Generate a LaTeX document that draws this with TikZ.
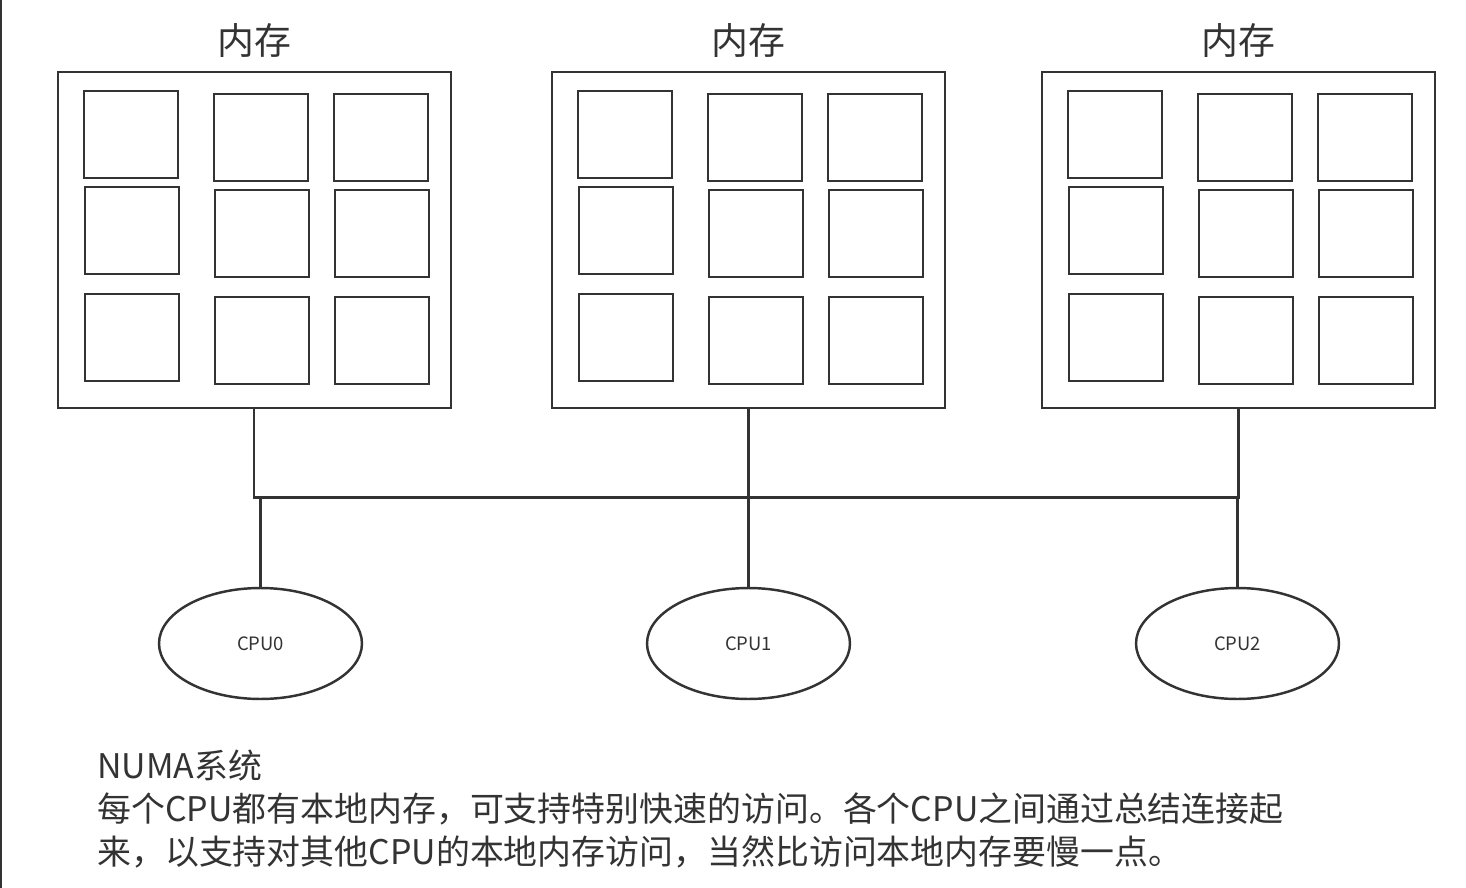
\documentclass[tikz,border=0pt]{standalone}
\usepackage{fontspec}
\newfontfamily\cjk{Noto Sans CJK SC}
\usetikzlibrary{shapes.geometric}
\definecolor{ink}{HTML}{333333}
\tikzset{
  membox/.style={draw=ink, line width=1.5pt, minimum width=7.86cm, minimum height=6.72cm, inner sep=0pt},
  cpunode/.style={draw=ink, ellipse, line width=1.4pt, minimum width=4.06cm, minimum height=2.22cm, inner sep=0pt, font=\cjk\fontsize{10.5}{12}\selectfont},
  wire/.style={draw=ink, line width=1.4pt}
}
\begin{document}
\begin{tikzpicture}[x=0.02cm, y=-0.02cm, every node/.style={text=ink}]
  \useasboundingbox (0,0) rectangle (1466,888);
  \draw[ink, line width=1.2pt] (1,0) -- (1,888);
  % memory banks
  \node[membox] (mem0) at (254.5,240) {};
  \node[membox] (mem1) at (748.5,240) {};
  \node[membox] (mem2) at (1238.5,240) {};
  \foreach \bx in {58,552,1042} {
    \begin{scope}[shift={(\bx,0)}, line width=1.4pt, ink]
      \draw (26,91) rectangle ++(94,87);
      \draw (27,187) rectangle ++(94,87);
      \draw (27,294) rectangle ++(94,87);
      \draw (156,94) rectangle ++(94,87);
      \draw (157,190) rectangle ++(94,87);
      \draw (157,297) rectangle ++(94,87);
      \draw (276,94) rectangle ++(94,87);
      \draw (277,190) rectangle ++(94,87);
      \draw (277,297) rectangle ++(94,87);
    \end{scope}
  }
  \node[font=\cjk\fontsize{21}{24}\selectfont, above=4pt] (lab0) at (mem0.north) {内存};
  \node[font=\cjk\fontsize{21}{24}\selectfont, above=4pt] (lab1) at (mem1.north) {内存};
  \node[font=\cjk\fontsize{21}{24}\selectfont, above=4pt] (lab2) at (mem2.north) {内存};
  % processors
  \node[cpunode] (cpu0) at (260.5,643.5) {CPU0};
  \node[cpunode] (cpu1) at (748.5,643.5) {CPU1};
  \node[cpunode] (cpu2) at (1237.5,643.5) {CPU2};
  % bus
  \coordinate (busL) at (254,497.5);
  \draw[wire] (mem0.south -| busL) -- (busL) -- (busL -| mem2.south) -- (mem2.south);
  \draw[wire] (mem1.south) -- (cpu1.north);
  \draw[wire] (cpu0.north) -- (cpu0.north |- busL);
  \draw[wire] (cpu2.north) -- (cpu2.north |- busL);
  % caption
  \node[anchor=north west, align=left, inner sep=0pt, font=\cjk\fontsize{19.3}{24.4}\selectfont] (note) at (97,750)
    {NUMA系统\\
     每个CPU都有本地内存，可支持特别快速的访问。各个CPU之间通过总结连接起\\
     来，以支持对其他CPU的本地内存访问，当然比访问本地内存要慢一点。};
\end{tikzpicture}
\end{document}
